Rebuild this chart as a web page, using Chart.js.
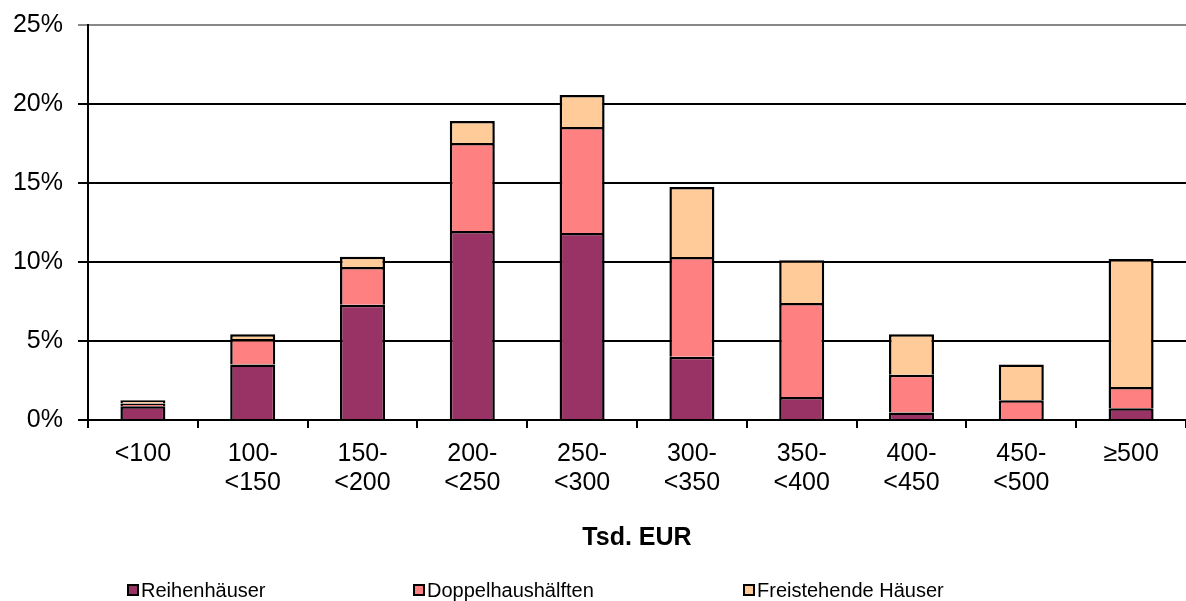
<!DOCTYPE html>
<html lang="de">
<head>
    <meta charset="UTF-8">
    <title>Tsd. EUR</title>
    <script src="https://cdn.jsdelivr.net/npm/chart.js"></script>
    <style>
        body {
            margin: 0;
            background: #fff;
            font-family: "Liberation Sans", Arial, sans-serif;
        }
        #wrap {
            position: relative;
            width: 1186px;
            height: 601px;
        }
        #legend {
            position: absolute;
            left: 0;
            top: 578px;
            width: 1186px;
            height: 24px;
            font-size: 20px;
            color: #000;
        }
        .item {
            position: absolute;
            top: 0;
            white-space: nowrap;
            line-height: 24px;
        }
        .box {
            display: inline-block;
            width: 8px;
            height: 8px;
            border: 2px solid #000;
            margin-right: 2px;
            vertical-align: 1px;
        }
    </style>
</head>
<body>

<div id="wrap">
    <canvas id="myChart" width="1186" height="601"></canvas>
    <div id="legend"></div>
</div>

<script>
    // categories (Tsd. EUR)
    const categories = [['<100'], ['100-', '<150'], ['150-', '<200'], ['200-', '<250'], ['250-', '<300'],
                        ['300-', '<350'], ['350-', '<400'], ['400-', '<450'], ['450-', '<500'], ['≥500']];

    // shares in percent, per house type
    const reihenhaeuser  = [0.87, 3.52, 7.30, 11.96, 11.84, 4.01, 1.46, 0.47, 0.00, 0.74];
    const doppelhaus     = [0.17, 1.61, 2.38, 5.57, 6.70, 6.31, 5.95, 2.40, 1.25, 1.35];
    const freistehende   = [0.21, 0.29, 0.66, 1.39, 2.03, 4.43, 2.70, 2.55, 2.27, 8.10];

    const seriesNames = ['Reihenhäuser', 'Doppelhaushälften', 'Freistehende Häuser'];
    const seriesColors = ['#993366', '#FF8080', '#FFCC99'];
    const legendX = [127, 413, 743];

    const yTicks = [0, 5, 10, 15, 20, 25];

    const seriesData = [reihenhaeuser, doppelhaus, freistehende];
    const datasets = seriesNames.map((name, i) => ({
        label: name,
        data: seriesData[i],
        backgroundColor: seriesColors[i],
        borderColor: '#000',
        borderWidth: 2.5,
        borderSkipped: 'start',   // neighbour below already draws the joint line
        inflateAmount: 0,
        categoryPercentage: 1.0,
        barPercentage: 0.41
    }));

    // simple legend underneath the chart
    const legend = document.getElementById('legend');
    seriesNames.forEach((name, i) => {
        let item = document.createElement('div');
        item.className = 'item';
        item.style.left = legendX[i] + 'px';
        item.innerHTML = `<span class="box" style="background:${seriesColors[i]}"></span>${name}`;
        legend.appendChild(item);
    });

    const tickFont = { family: '"Liberation Sans", Arial, sans-serif', size: 25, lineHeight: 1.18 };

    new Chart(document.getElementById('myChart').getContext('2d'), {
        type: 'bar',
        data: {
            labels: categories,
            datasets: datasets
        },
        options: {
            responsive: false,
            animation: false,
            layout: { padding: { top: 25, right: 0, bottom: 40, left: 0 } },
            plugins: {
                legend: { display: false },
                tooltip: { enabled: false }
            },
            scales: {
                x: {
                    stacked: true,
                    grid: {
                        drawOnChartArea: false,
                        offset: true,
                        color: '#000',
                        lineWidth: 2,
                        tickLength: 8
                    },
                    border: { color: '#000', width: 2 },
                    ticks: {
                        color: '#000',
                        font: tickFont,
                        padding: 11,
                        maxRotation: 0,
                        autoSkip: false
                    },
                    title: {
                        display: true,
                        text: 'Tsd. EUR',
                        color: '#000',
                        font: { family: '"Liberation Sans", Arial, sans-serif', size: 25, weight: 'bold' },
                        padding: { top: 0, bottom: 8 }
                    },
                    afterFit: function(scale) { scale.height = 141; }
                },
                y: {
                    stacked: true,
                    min: 0,
                    max: 25,
                    afterBuildTicks: function(scale) {
                        scale.ticks = yTicks.map(v => ({ value: v }));
                    },
                    grid: {
                        color: ctx => ctx.tick && ctx.tick.value === 25 ? '#888' : '#000',
                        lineWidth: 2,
                        tickLength: 10
                    },
                    border: { color: '#000', width: 2 },
                    ticks: {
                        color: '#000',
                        font: tickFont,
                        padding: 15,
                        callback: v => v + '%'
                    },
                    afterFit: function(scale) {
                        scale.width = 88;
                        scale.paddingTop = 0;
                    }
                }
            }
        }
    });
</script>

</body>
</html>
